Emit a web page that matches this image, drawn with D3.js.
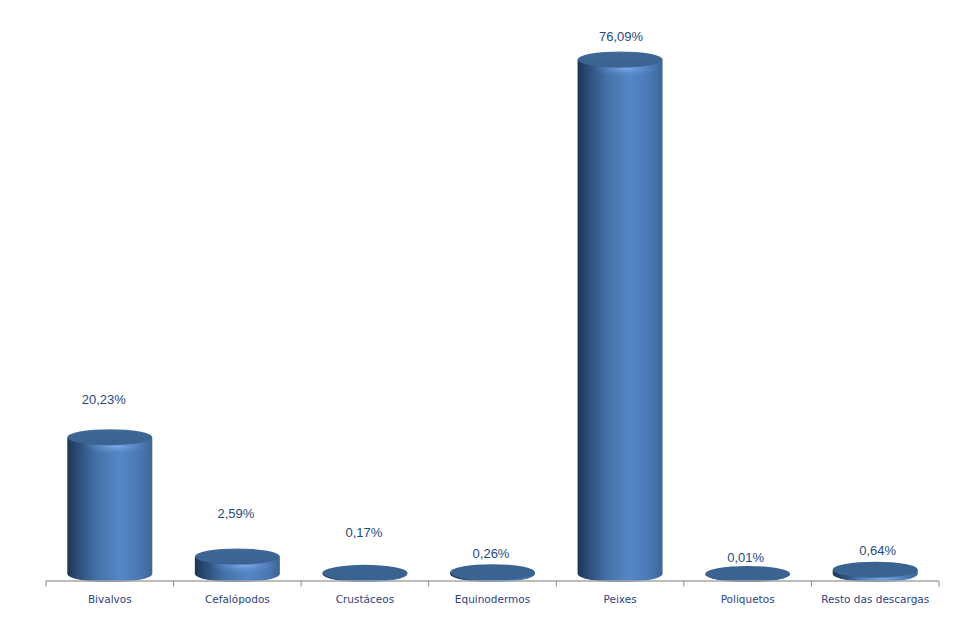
<!DOCTYPE html>
<html><head><meta charset="utf-8">
<script src="https://cdn.jsdelivr.net/npm/d3@7"></script>
<style>html,body{margin:0;padding:0;background:#fff}svg{display:block}</style>
</head><body><div id="c"></div>
<script>
const categories=["Bivalvos","Cefalópodos","Crustáceos","Equinodermos","Peixes","Poliquetos","Resto das descargas"];
const values=[20.23,2.59,0.17,0.26,76.09,0.01,0.64];
const valueLabels=["20,23%","2,59%","0,17%","0,26%","76,09%","0,01%","0,64%"];
// hand-placed label offsets from the bar top in the original
const labelLift=[38,43,41,19,24,17,20];
const labelShift=[-6,-1.5,-1,-1.5,1,-2,2.5];

const W=957,H=618,axisY=581,rx=42.5,ry=8;
const svg=d3.select("#c").append("svg").attr("width",W).attr("height",H);
const x=d3.scaleBand().domain(categories).range([46,939]);
const y=d3.scaleLinear().domain([0,76.09]).range([574,59.5]);

const defs=svg.append("defs");
const bodyGrad=defs.append("linearGradient").attr("id","body");
[[0,"#1e3554"],[.12,"#2c4b77"],[.35,"#4472a8"],[.62,"#5587c6"],[.85,"#4a78b3"],[1,"#3d6698"]]
 .forEach(s=>bodyGrad.append("stop").attr("offset",s[0]).attr("stop-color",s[1]));
const capGrad=defs.append("linearGradient").attr("id","cap").attr("x1",0).attr("x2",0).attr("y1",0).attr("y2",1);
[[0,"#55789f"],[.1,"#3f6795"],[1,"#3a6392"]].forEach(s=>capGrad.append("stop").attr("offset",s[0]).attr("stop-color",s[1]));
const glow=defs.append("radialGradient").attr("id","glow");
[[0,"#7fb0ee",.9],[.55,"#6a9bd8",.4],[1,"#5587c6",0]].forEach(s=>glow.append("stop").attr("offset",s[0]).attr("stop-color",s[1]).attr("stop-opacity",s[2]));

const cx=d=>x(d)+x.bandwidth()/2;
const g=svg.selectAll("g.bar").data(categories.map((c,i)=>({c,v:values[i],l:valueLabels[i],lift:labelLift[i],shift:labelShift[i]}))).join("g").attr("class","bar");

const axis=svg.append("g").attr("stroke","#a6a6a6");
axis.append("line").attr("x1",46).attr("x2",939).attr("y1",axisY).attr("y2",axisY).attr("stroke-width",1.5);
axis.selectAll("line.t").data([...categories.map(c=>x(c)),939]).join("line").attr("class","t")
  .attr("x1",d=>d).attr("x2",d=>d).attr("y1",axisY).attr("y2",axisY+5.5).attr("stroke","#8c8c8c").attr("stroke-width",1);

g.append("path").attr("fill","url(#body)").attr("d",d=>{
  const c=cx(d.c),t=y(d.v),b=y(0);
  return `M${c-rx},${t}L${c-rx},${b}A${rx},${ry} 0 0 0 ${c+rx},${b}L${c+rx},${t}Z`;
});
g.filter(d=>y(0)-y(d.v)>3).append("ellipse").attr("fill","url(#glow)")
  .attr("cx",d=>cx(d.c)+6).attr("cy",d=>y(d.v)+ry+1).attr("rx",34).attr("ry",d=>Math.min(8,(y(0)-y(d.v))/2+2));
g.append("ellipse").attr("fill",d=>y(0)-y(d.v)>10?"url(#cap)":"#3a6392")
  .attr("cx",d=>cx(d.c)).attr("cy",d=>y(d.v)).attr("rx",rx).attr("ry",ry);

g.append("text").attr("x",d=>cx(d.c)+d.shift).attr("y",d=>y(d.v)-d.lift+5).attr("text-anchor","middle")
  .attr("font-family","'Liberation Sans',Arial,sans-serif").attr("font-size",13).attr("fill","#1f4a80").text(d=>d.l);
g.append("text").attr("x",d=>cx(d.c)).attr("y",603).attr("text-anchor","middle")
  .attr("font-family","'DejaVu Sans',Tahoma,sans-serif").attr("font-size",10.5).attr("fill","#2f3f85").text(d=>d.c);
</script></body></html>
